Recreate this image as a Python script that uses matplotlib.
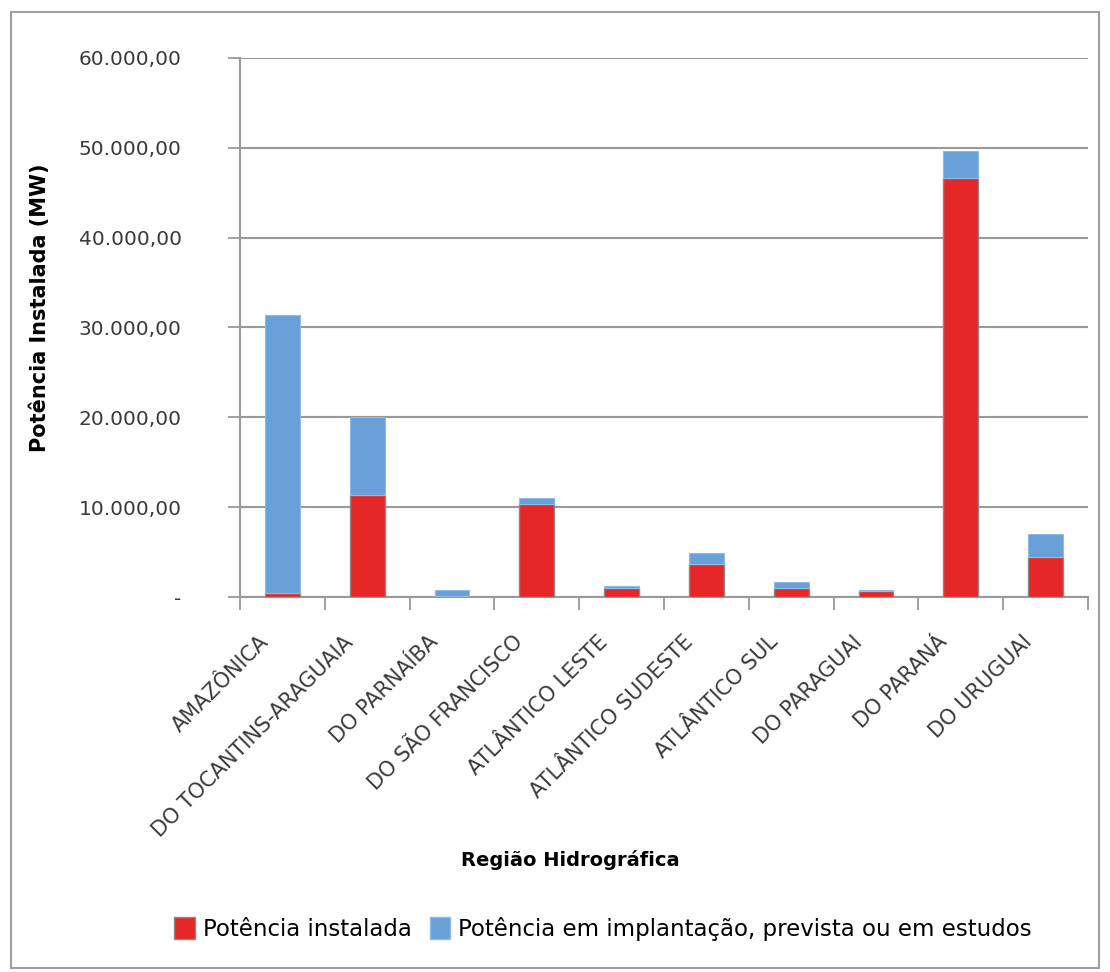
import matplotlib
matplotlib.use("Agg")
import matplotlib.pyplot as plt
from matplotlib.patches import Rectangle, Patch
from matplotlib.transforms import ScaledTranslation, blended_transform_factory
import numpy as np

categories = ["AMAZÔNICA", "DO TOCANTINS-ARAGUAIA", "DO PARNAÍBA", "DO SÃO FRANCISCO",
              "ATLÂNTICO LESTE", "ATLÂNTICO SUDESTE", "ATLÂNTICO SUL", "DO PARAGUAI",
              "DO PARANÁ", "DO URUGUAI"]
instalada = [500, 11300, 100, 10400, 1000, 3700, 1000, 700, 46600, 4400]
total = [31400, 20000, 800, 11000, 1250, 4950, 1650, 750, 49650, 7000]
implantacao = [t - i for t, i in zip(total, instalada)]
yticks = [0, 10000, 20000, 30000, 40000, 50000, 60000]
yticklabels = ["-", "10.000,00", "20.000,00", "30.000,00", "40.000,00", "50.000,00", "60.000,00"]

RED = "#E52727"
BLUE = "#69A0D7"
GRID = "#999999"

fig = plt.figure(figsize=(11.10, 9.72), dpi=100)
fig.patches.append(Rectangle((0.010, 0.004), 0.980, 0.984, transform=fig.transFigure,
                             fill=False, edgecolor="#A0A0A0", linewidth=1.5))
ax = fig.add_axes([240/1110, 1-597/972, (1088-240)/1110, (597-58)/972])

x = np.arange(len(categories))
w = 0.41
ax.bar(x, instalada, width=w, color=RED, edgecolor="#8a8a8a", linewidth=1.0, zorder=3,
       label="Potência instalada")
ax.bar(x, implantacao, bottom=instalada, width=w, color=BLUE, edgecolor="#8fbbe6", linewidth=0.8,
       zorder=3, label="Potência em implantação, prevista ou em estudos")

ax.set_xlim(-0.5, len(categories) - 0.5)
ax.set_ylim(0, 60000)
ax.set_yticks(yticks)
ax.set_yticklabels(yticklabels, fontsize=14.5, color="#3a3a3a")
ax.yaxis.grid(True, color=GRID, linewidth=1.5, zorder=0)
ax.tick_params(axis="y", length=9, width=1.3, color=GRID, pad=33)

# category labels (rotated), placed relative to category centres
ax.set_xticks(x)
ax.set_xticklabels([])
ax.tick_params(axis="x", which="major", length=0)
trans = blended_transform_factory(ax.transData, ax.transAxes) + \
    ScaledTranslation(-24/100, -35/100, fig.dpi_scale_trans)
for xi, cat in zip(x, categories):
    ax.text(xi, 0, cat, transform=trans, rotation=45, ha="right", va="top",
            rotation_mode="anchor", fontsize=15, color="#3a3a3a", clip_on=False)
ax.set_xticks(np.arange(-0.5, len(categories)), minor=True)
ax.tick_params(axis="x", which="minor", length=9, width=1.3, color=GRID)

for s in ["top", "right"]:
    ax.spines[s].set_visible(False)
for s in ["left", "bottom"]:
    ax.spines[s].set_color(GRID)
    ax.spines[s].set_linewidth(1.5)

fig.text(40/1110, 1-308/972, "Potência Instalada (MW)", rotation=90, fontsize=15,
         fontweight="bold", ha="center", va="center")
fig.text(570/1110, 1-860/972, "Região Hidrográfica", fontsize=14, fontweight="bold",
         ha="center", va="center")

handles = [Patch(facecolor=RED, edgecolor="#8a8a8a"), Patch(facecolor=BLUE, edgecolor="#8fbbe6")]
fig.legend(handles, ["Potência instalada", "Potência em implantação, prevista ou em estudos"],
           loc="center", bbox_to_anchor=(603/1110, 1-929/972), ncol=2, frameon=False,
           fontsize=16.5, handlelength=0.9, handleheight=1.1, handletextpad=0.35, columnspacing=0.8)

fig.savefig("out.png", dpi=100)
